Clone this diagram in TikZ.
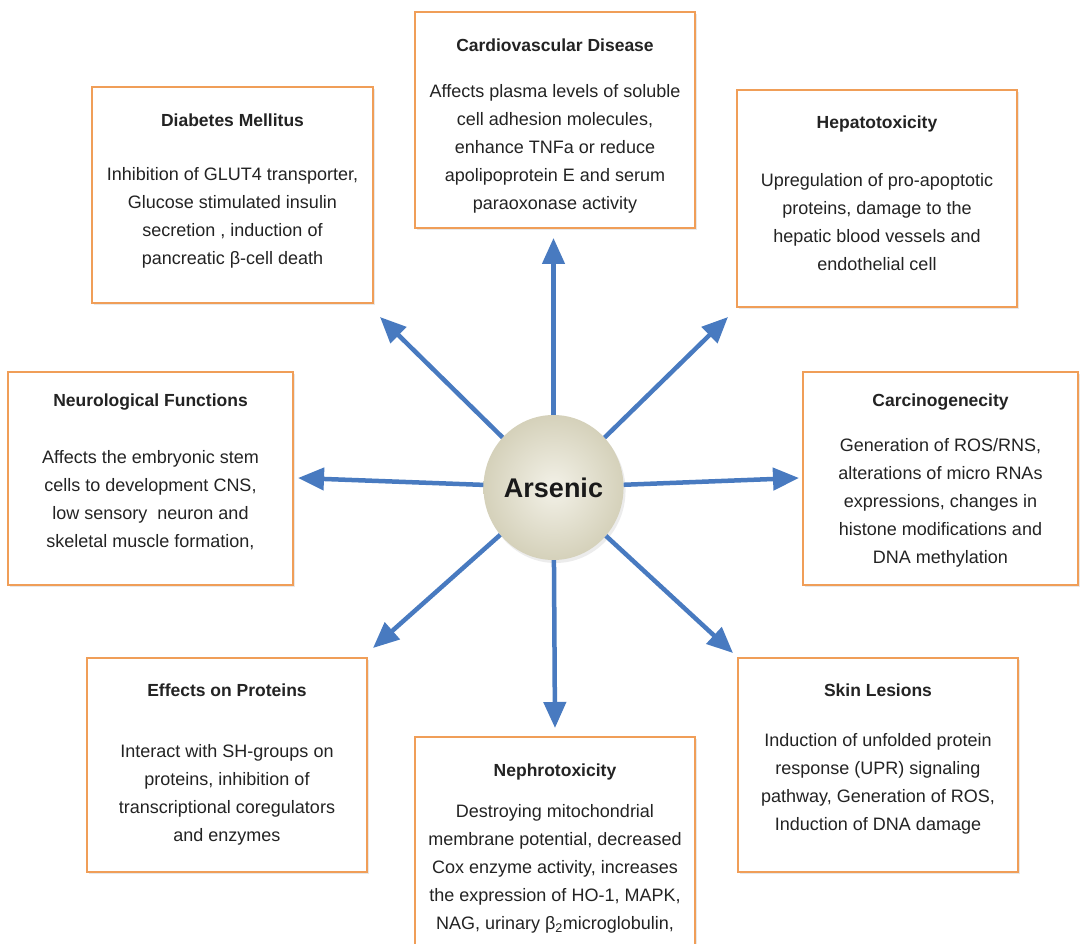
\documentclass[tikz,border=0pt]{standalone}
\usepackage{fontspec}
\setmainfont{Liberation Sans}
\usetikzlibrary{arrows.meta,shapes.geometric,shadows}
\definecolor{boxorange}{RGB}{240,158,88}
\definecolor{arrowblue}{RGB}{72,122,192}
\definecolor{txtgray}{RGB}{35,35,35}
\definecolor{cream}{RGB}{224,220,196}
\tikzset{
  effbox/.style={draw=boxorange, line width=2.4pt, fill=white, inner sep=0pt,
    drop shadow={opacity=0.18, shadow xshift=2pt, shadow yshift=-2pt}},
  boxtitle/.style={font=\fontsize{17.5}{21}\selectfont\bfseries, text=txtgray, inner sep=0pt},
  boxbody/.style={font=\fontsize{18}{28}\selectfont, text=txtgray, align=center, inner sep=0pt},
  arr/.style={draw=arrowblue, line width=4.5pt, -{Triangle[length=26pt,width=22pt]}},
  hub/.style={ellipse, minimum width=123pt, minimum height=145pt, inner sep=0pt,
    inner color=cream!40!white, outer color=cream!95!black,
    drop shadow={opacity=0.15, shadow xshift=2pt, shadow yshift=-3pt},
    font=\fontsize{27}{30}\selectfont\bfseries, text=black!90}
}
\begin{document}
\begin{tikzpicture}[x=1pt,y=-1pt]
\clip (0,0) rectangle (1080,944);
\fill[white] (0,0) rectangle (1080,944);

% boxes
\node[effbox, minimum width=280pt, minimum height=216pt] (cardio) at (555,120) {};
\node[effbox, minimum width=281pt, minimum height=216pt] (diab) at (232.5,195) {};
\node[effbox, minimum width=280pt, minimum height=217pt] (hepa) at (877,198.5) {};
\node[effbox, minimum width=285pt, minimum height=213pt] (neuro) at (150.5,478.5) {};
\node[effbox, minimum width=275pt, minimum height=213pt] (carc) at (940.5,478.5) {};
\node[effbox, minimum width=280pt, minimum height=214pt] (prot) at (227,765) {};
\node[effbox, minimum width=280pt, minimum height=240pt] (neph) at (555,857) {};
\node[effbox, minimum width=280pt, minimum height=214pt] (skin) at (878,765) {};

% texts
\node[boxtitle] (cardioT) at (555,45) {Cardiovascular Disease};
\node[boxbody] (cardioB) at (555,149) {Affects plasma levels of soluble\\cell adhesion molecules,\\enhance TNFa or reduce\\apolipoprotein E and serum\\paraoxonase activity};

\node[boxtitle] (diabT) at (232.5,120) {Diabetes Mellitus};
\node[boxbody] (diabB) at (232.5,217.5) {Inhibition of GLUT4 transporter,\\Glucose stimulated insulin\\secretion , induction of\\pancreatic β-cell death};

\node[boxtitle] (hepaT) at (877,124) {Hepatotoxicity};
\node[boxbody] (hepaB) at (877,222) {Upregulation of pro-apoptotic\\proteins, damage to the\\hepatic blood vessels and\\endothelial cell};

\node[boxtitle] (neuroT) at (150.5,402) {Neurological Functions};
\node[boxbody] (neuroB) at (150.5,500) {Affects the embryonic stem\\cells to development CNS,\\low sensory\ \ neuron and\\skeletal muscle formation,};

\node[boxtitle] (carcT) at (940.5,402) {Carcinogenecity};
\node[boxbody] (carcB) at (940.5,502.5) {Generation of ROS/RNS,\\alterations of micro RNAs\\expressions, changes in\\histone modifications and\\DNA methylation};

\node[boxtitle] (protT) at (227,690) {Effects on Proteins};
\node[boxbody] (protB) at (227,795) {Interact with SH-groups on\\proteins, inhibition of\\transcriptional coregulators\\and enzymes};

\node[boxtitle] (nephT) at (555,772) {Nephrotoxicity};
\node[boxbody] (nephB) at (555,869) {Destroying mitochondrial\\membrane potential, decreased\\Cox enzyme activity, increases\\the expression of HO-1, MAPK,\\NAG, urinary β\textsubscript{2}microglobulin,};

\node[boxtitle] (skinT) at (878,690) {Skin Lesions};
\node[boxbody] (skinB) at (878,783.5) {Induction of unfolded protein\\response (UPR) signaling\\pathway, Generation of ROS,\\Induction of DNA damage};

% hub
\node[hub] (ars) at (553.5,487.5) {Arsenic};

% arrow tips
\coordinate (tU) at (553.5,238);
\coordinate (tUL) at (380,317);
\coordinate (tUR) at (728,317);
\coordinate (tL) at (298,478);
\coordinate (tR) at (799,478);
\coordinate (tDL) at (373,648);
\coordinate (tDR) at (733,653);
\coordinate (tD) at (555,728);

\draw[arr] (ars) -- (tU);
\draw[arr] (ars) -- (tUL);
\draw[arr] (ars) -- (tUR);
\draw[arr] (ars) -- (tL);
\draw[arr] (ars) -- (tR);
\draw[arr] (ars) -- (tDL);
\draw[arr] (ars) -- (tDR);
\draw[arr] (ars) -- (tD);
\end{tikzpicture}
\end{document}
